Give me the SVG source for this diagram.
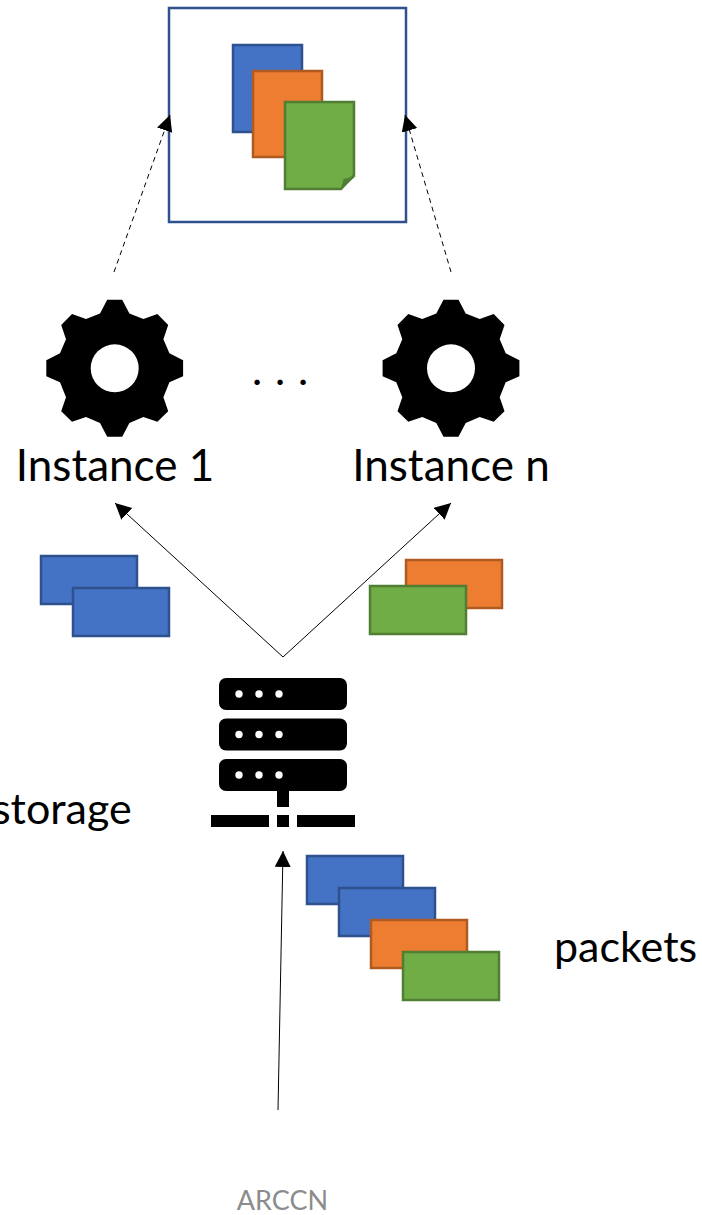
<svg xmlns="http://www.w3.org/2000/svg" width="702" height="1215" viewBox="0 0 702 1215">
<style>
.lbl{font-family:Lato,"Open Sans",sans-serif;font-size:43px;fill:#000}
.inst{font-size:44px}
.blue{fill:#4472c4;stroke:#2f528f;stroke-width:2.500}
.orange{fill:#ed7d31;stroke:#ae5a21;stroke-width:2.500}
.green{fill:#70ad47;stroke:#507e32;stroke-width:2.500}
.conn{fill:none;stroke:#000;stroke-width:1}
.dash{stroke-dasharray:5 4}
</style>
<defs>
<marker id="arr" markerUnits="userSpaceOnUse" markerWidth="17" markerHeight="17" refX="16" refY="8" orient="auto"><path d="M0 0L16 8L0 16Z" fill="#000"/></marker>
<g id="gear"><path fill-rule="evenodd" fill="#000" d="M-7.500 -68.500H7.500L14.700 -54.700L28.700 -49.300L42.700 -54.300L53.500 -43.300L48.700 -29L54.700 -15L68.400 -8V8L54.700 14L48.700 29L53.500 43L42.700 53.500L28.700 48.700L14.700 54.700L7.500 68.500H-7.500L-14.700 54.700L-28.700 48.700L-42.700 53.500L-53.500 43L-48.700 29L-54.700 14L-68.400 8V-8L-54.700 -15L-48.700 -29L-53.500 -43.300L-42.700 -54.300L-28.700 -49.300L-14.700 -54.700ZM24 0A24 24 0 1 0 -24 0A24 24 0 1 0 24 0Z"/></g>
<g id="rack"><rect x="219" y="0" width="128" height="32" rx="7" fill="#000"/><circle cx="239" cy="16" r="3.700" fill="#fff"/><circle cx="259" cy="16" r="3.700" fill="#fff"/><circle cx="279" cy="16" r="3.700" fill="#fff"/></g>
</defs>
<g id="results">
<rect x="169" y="8" width="237" height="214" fill="#fff" stroke="#2f528f" stroke-width="2.500"/>
<rect class="blue" x="233" y="45" width="69" height="87"/>
<rect class="orange" x="253" y="71" width="69" height="86"/>
<path class="green" d="M285 102H354V175L341 189H285Z"/>
<path d="M341 189L343.500 179L356 176Z" fill="#507e32"/>
</g>
<g id="instance-1"><use href="#gear" x="114.700" y="368.300"/><text class="lbl inst" x="115" y="480.500" text-anchor="middle">Instance 1</text></g>
<g id="ellipsis"><text class="lbl" x="252 265 275 288 298" y="385">. . .</text></g>
<g id="instance-n"><use href="#gear" x="451" y="368.300"/><text class="lbl inst" x="451" y="480.500" text-anchor="middle">Instance n</text></g>
<g id="left-packets">
<rect class="blue" x="41" y="556" width="96" height="48"/>
<rect class="blue" x="73" y="588" width="96" height="48"/>
</g>
<g id="right-packets">
<rect class="orange" x="406" y="560" width="96" height="48"/>
<rect class="green" x="370" y="586" width="96" height="48"/>
</g>
<g id="server">
<use href="#rack" y="678"/><use href="#rack" y="718.500"/><use href="#rack" y="759"/>
<rect x="277" y="790" width="12" height="17" fill="#000"/>
<rect x="211" y="815" width="58" height="12" fill="#000"/>
<rect x="277" y="815" width="12" height="12" fill="#000"/>
<rect x="297" y="815" width="58" height="12" fill="#000"/>
</g>
<g id="storage"><text class="lbl" x="-8" y="824">storage</text></g>
<g id="packets">
<rect class="blue" x="307" y="856" width="96" height="48"/>
<rect class="blue" x="339" y="888" width="96" height="48"/>
<rect class="orange" x="371" y="920" width="96" height="48"/>
<rect class="green" x="403" y="952" width="96" height="48"/>
<text class="lbl" x="554" y="962">packets</text>
</g>
<g id="connectors">
<path class="conn dash" marker-end="url(#arr)" d="M114 272L170 115"/>
<path class="conn dash" marker-end="url(#arr)" d="M451 272L405 115"/>
<path class="conn" marker-end="url(#arr)" d="M283 657L115 503"/>
<path class="conn" marker-end="url(#arr)" d="M283 657L451 503"/>
<path class="conn" marker-end="url(#arr)" d="M278 1110L283 851"/>
</g>
<g id="footer"><text x="282.500" y="1210" text-anchor="middle" font-family="Lato, Open Sans, sans-serif" font-size="27" fill="#8c8c8c">ARCCN</text></g>
</svg>
